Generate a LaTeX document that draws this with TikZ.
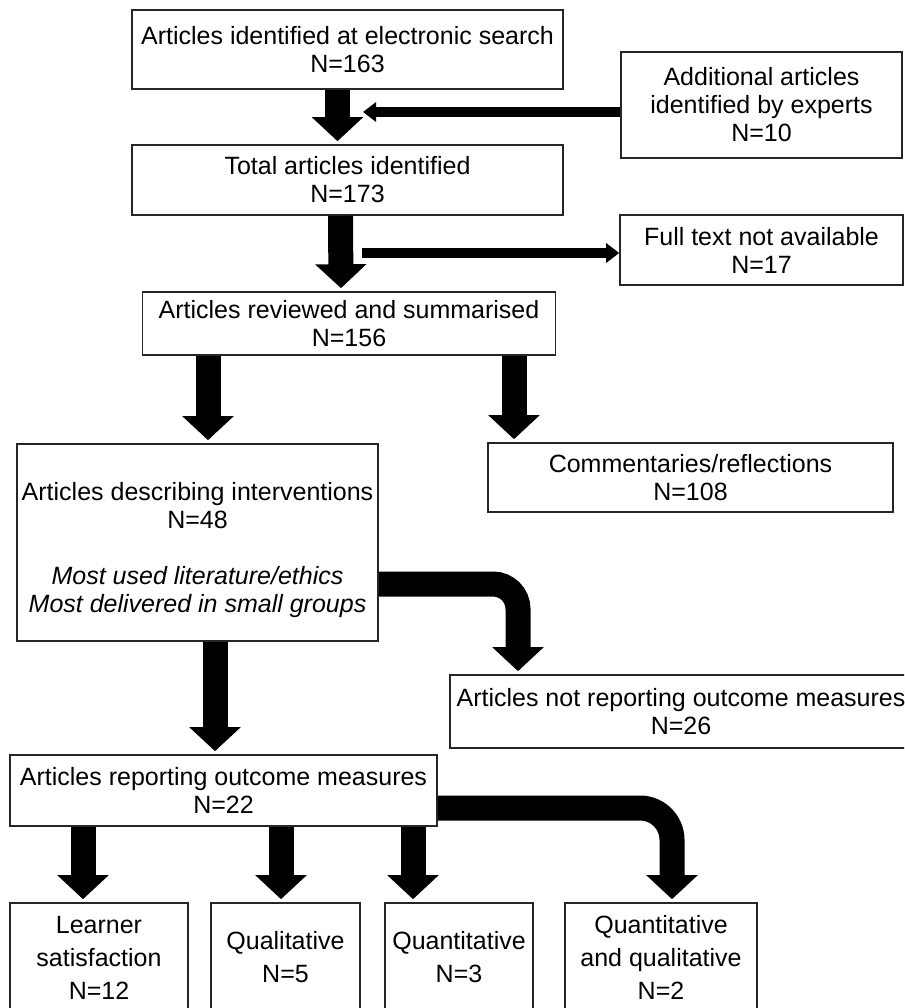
\documentclass[tikz,border=0pt]{standalone}
\usepackage{fontspec}
\setmainfont{Liberation Sans}
\usepackage{tikz}
\usetikzlibrary{arrows.meta}

\tikzset{
  box/.style={draw=black!85, line width=1.6pt, align=center, inner sep=3pt,
    font=\fontsize{25}{28}\selectfont},
  lowbox/.style={box, font=\fontsize{25}{33}\selectfont},
  bigarrow/.style={line width=25pt, -{Triangle[width=50pt,length=24pt]}, shorten >=3pt},
  thinarrow/.style={line width=10pt, -{Triangle[width=19pt,length=13pt]}}
}

\begin{document}
\begin{tikzpicture}[x=1pt,y=-1pt]
  \useasboundingbox (0,0) rectangle (904,1008);
  \clip (0,0) rectangle (904,1008);

  % boxes, top to bottom
  \node[box, minimum width=431, minimum height=79] (search) at (347.5,49.5) {Articles identified at electronic search\\N=163};
  \node[box, minimum width=281, minimum height=106] (experts) at (761.5,105) {Additional articles\\identified by experts\\N=10};
  \node[box, minimum width=431, minimum height=70] (total) at (347.5,180) {Total articles identified\\N=173};
  \node[box, minimum width=283, minimum height=70] (fulltext) at (761.5,250) {Full text not available\\N=17};
  \node[box, minimum width=413, minimum height=63] (reviewed) at (349,323.5) {Articles reviewed and summarised\\N=156};
  \node[box, minimum width=405, minimum height=69] (comment) at (690.5,477.5) {Commentaries/reflections\\N=108};
  \node[box, minimum width=361, minimum height=197] (interv) at (197.5,542.5) {};
  \node[align=center, font=\fontsize{25}{28}\selectfont, inner sep=0pt] at ([yshift=-8]interv.center)   % text sits a bit low
    {Articles describing interventions\\N=48\\[28pt]\textit{Most used literature/ethics}\\\textit{Most delivered in small groups}};
  \node[box, minimum width=462, minimum height=73] (notrep) at (681,711.5) {Articles not reporting outcome measures\\N=26};
  \node[box, minimum width=427, minimum height=71] (report) at (223.5,790.5) {Articles reporting outcome measures\\N=22};

  % outcome boxes (cut by the bottom edge)
  \node[lowbox, minimum width=178, minimum height=109] (learner) at (99,957.5) {Learner\\satisfaction\\N=12};
  \node[lowbox, minimum width=149, minimum height=109] (qual) at (285.5,957.5) {Qualitative\\N=5};
  \node[lowbox, minimum width=148, minimum height=109] (quant) at (459,957.5) {Quantitative\\N=3};
  \node[lowbox, minimum width=192, minimum height=109] (qq) at (661,957.5) {Quantitative\\and qualitative\\N=2};

  % side arrows
  \coordinate (join1) at (363,112);
  \coordinate (split1) at (362,253);
  \draw[thinarrow] (experts.west |- join1) -- (join1);
  \draw[thinarrow] (split1) -- (split1 -| fulltext.west);

  % block arrows
  \draw[bigarrow] ([xshift=-10]search.south) -- ([xshift=-10]total.north);
  \draw[bigarrow] ([xshift=-7]total.south) -- ([xshift=-8]reviewed.north);
  \draw[bigarrow] ([xshift=-141]reviewed.south) -- ([xshift=10.5]interv.north);
  \draw[bigarrow] ([xshift=165]reviewed.south) -- ([xshift=-176.5]comment.north);
  \draw[bigarrow] ([xshift=17.5]interv.south) -- ([xshift=-8.5]report.north);
  \draw[bigarrow, rounded corners=25] ([yshift=-41.5]interv.east) -| ([xshift=-163]notrep.north);
  \draw[bigarrow] ([xshift=-140.5]report.south) -- ([xshift=-16]learner.north);
  \draw[bigarrow] ([xshift=57.5]report.south) -- ([xshift=-4.5]qual.north);
  \draw[bigarrow] ([xshift=189.5]report.south) -- ([xshift=-46]quant.north);
  \draw[bigarrow, rounded corners=32] ([yshift=-17.5]report.east) -| ([xshift=11]qq.north);
\end{tikzpicture}
\end{document}
